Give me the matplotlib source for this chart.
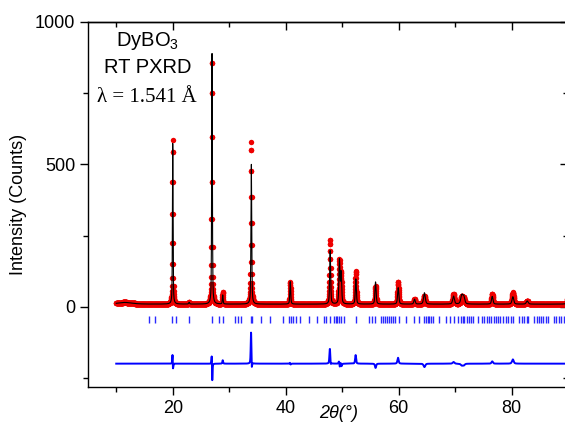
import numpy as np
import matplotlib
matplotlib.use("Agg")
import matplotlib.pyplot as plt
from matplotlib.ticker import MultipleLocator

plt.rcParams["font.family"] = ["Liberation Sans", "DejaVu Sans"]
plt.rcParams["mathtext.fontset"] = "custom"
plt.rcParams["mathtext.rm"] = "Liberation Sans"
plt.rcParams["mathtext.it"] = "Liberation Sans:italic"

# --- reflection list: position (2θ, deg), observed height, FWHM (deg)
peak_pos = [11.5, 20.0, 22.9, 26.95, 28.85, 33.9, 40.8, 47.85, 49.5, 49.8,
            52.4, 55.9, 59.9, 62.8, 64.55, 69.7, 71.15, 71.5, 76.55, 80.2,
            82.75, 90.0]
obs_height = [6, 576, 6, 860, 44, 570, 79, 228, 150, 105,
              117, 63, 78, 17, 28, 34, 24, 20, 35, 41,
              11, 30]
peak_fwhm = [3.0, 0.13, 0.2, 0.14, 0.15, 0.16, 0.18, 0.2, 0.22, 0.22,
             0.22, 0.24, 0.26, 0.28, 0.35, 0.35, 0.4, 0.4, 0.3, 0.35,
             0.4, 0.35]
# refined model: height deficit (obs - calc) and peak shift per reflection
calc_deficit = [0, 10, 0, -24, 12, 75, 0, 40, -3, -3,
                28, -15, 20, 0, -12, 6, -6, -6, 8, 15,
                0, 0]
calc_shift = [0, 0.004, 0, 0.005, 0, 0.012, 0.005, 0.015, 0.01, 0.01,
              0.01, 0, 0.008, 0, 0, 0, 0, 0, 0, 0,
              0, 0]
background = 9.0
diff_offset = -200.0

# Bragg reflection positions
bragg_pos = [15.86, 16.87, 19.93, 20.5, 22.9, 27.0, 28.2, 28.96, 31.1, 31.5,
             32.0, 33.86, 34.1, 35.6, 37.2, 39.6, 40.6, 40.9, 41.35, 41.8,
             42.5, 44.2, 45.5, 46.7, 47.1, 47.8, 48.5, 48.85, 49.15, 49.4,
             49.75, 50.4, 52.4, 54.7, 55.2, 55.8, 56.9, 57.2, 57.5, 57.9,
             58.3, 58.6, 59.0, 59.4, 60.1, 61.2, 62.7, 63.6, 64.5, 64.8,
             65.1, 65.4, 65.7, 66.0, 67.2, 68.3, 69.1, 69.7, 70.5, 71.0,
             71.3, 71.6, 72.0, 72.4, 72.8, 73.2, 74.0, 74.7, 75.1, 75.6,
             76.0, 76.4, 76.8, 77.2, 77.6, 77.9, 78.5, 78.9, 79.4, 79.8,
             80.3, 81.3, 81.8, 82.2, 82.7, 82.9, 84.0, 84.4, 84.8, 85.2,
             85.6, 86.1, 86.5, 87.4, 87.8, 88.3, 88.7, 89.2, 89.6]

two_theta = np.arange(10.0, 90.0001, 0.02)


def pseudo_voigt(x, center, fwhm, eta=0.5):
    u = (x - center) / fwhm
    return eta / (1.0 + 4.0 * u ** 2) + (1.0 - eta) * np.exp(-4.0 * np.log(2.0) * u ** 2)


y_obs = np.full_like(two_theta, background)
y_calc = np.full_like(two_theta, background)
for p, h, w, d, s in zip(peak_pos, obs_height, peak_fwhm, calc_deficit, calc_shift):
    y_obs += h * pseudo_voigt(two_theta, p, w)
    y_calc += (h - d) * pseudo_voigt(two_theta, p + s, w)
y_diff = y_obs - y_calc + diff_offset

fig = plt.figure(figsize=(5.65, 4.23), dpi=100)
ax = fig.add_axes([0.1557, 0.0851, 0.85, 0.8629])

ax.plot(two_theta, y_obs, linestyle="none", marker="o", markersize=3.9,
        markeredgewidth=0, color="#ee0000", zorder=2)
ax.plot(two_theta, y_calc, color="black", lw=0.8, zorder=3)
ax.vlines(bragg_pos, -58, -32, color="#2a2aff", lw=1.0, zorder=2)
ax.plot(two_theta, y_diff, color="#0000ff", lw=1.4, zorder=2)

ax.set_xlim(5, 90)
ax.set_ylim(-282, 1000)

ax.xaxis.set_major_locator(MultipleLocator(20))
ax.xaxis.set_minor_locator(MultipleLocator(10))
ax.yaxis.set_major_locator(MultipleLocator(500))
ax.yaxis.set_minor_locator(MultipleLocator(250))
ax.tick_params(which="both", direction="out", labelsize=13, width=1.0, colors="black")
ax.tick_params(which="major", length=6, pad=3)
ax.tick_params(which="minor", length=3.5)

for side in ("top", "right"):
    sec = ax.secondary_xaxis("top") if side == "top" else ax.secondary_yaxis("right")
    axis = sec.xaxis if side == "top" else sec.yaxis
    axis.set_major_locator(MultipleLocator(20 if side == "top" else 500))
    axis.set_minor_locator(MultipleLocator(10 if side == "top" else 250))
    sec.tick_params(which="both", direction="in", width=1.0,
                    labeltop=False, labelright=False)
    sec.tick_params(which="major", length=6)
    sec.tick_params(which="minor", length=3.5)
    for sp in sec.spines.values():
        sp.set_linewidth(1.0)

for sp in ax.spines.values():
    sp.set_linewidth(1.0)

ax.set_ylabel("Intensity (Counts)", fontsize=13, labelpad=6)
ax.set_xlabel("2θ(°)", fontsize=13, fontstyle="italic", va="bottom")
ax.xaxis.set_label_coords(0.522, -0.095)

ax.text(0.123, 0.935, "DyBO$_3$", transform=ax.transAxes, ha="center",
        va="baseline", fontsize=14.5)
ax.text(0.125, 0.860, "RT PXRD", transform=ax.transAxes, ha="center",
        va="baseline", fontsize=14.5)
ax.text(0.123, 0.781, "λ = 1.541 Å", transform=ax.transAxes, ha="center",
        va="baseline", fontsize=15, family=["Liberation Serif", "DejaVu Serif"])

fig.savefig("out.png", dpi=100)
